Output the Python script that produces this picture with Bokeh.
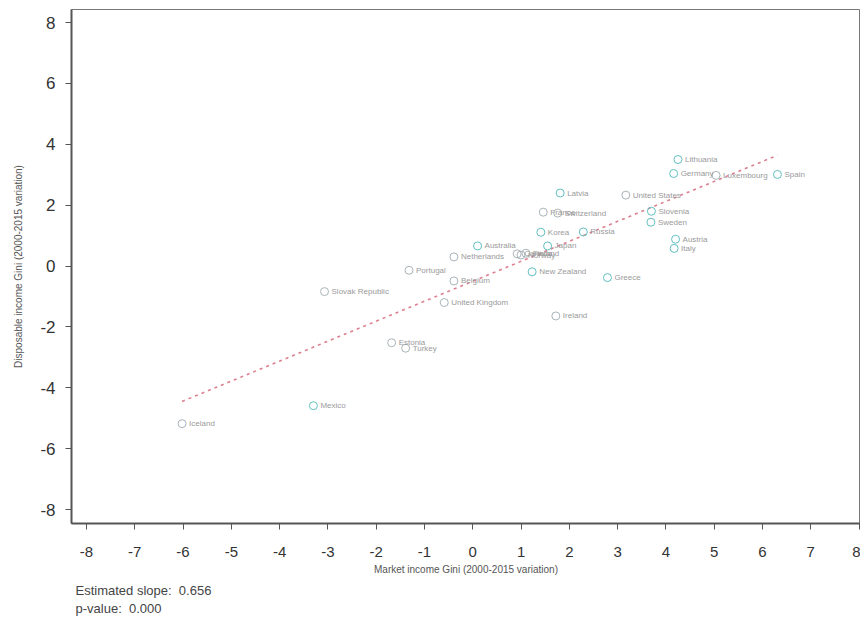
from bokeh.plotting import figure
from bokeh.models import ColumnDataSource, Range1d, FixedTicker, Title
from bokeh.embed import file_html
from bokeh.resources import INLINE
from bokeh.core.properties import value

countries = ["Lithuania", "Germany", "Luxembourg", "Spain", "Latvia", "United States",
             "France", "Switzerland", "Slovenia", "Sweden", "Korea", "Russia",
             "Austria", "Italy", "Australia", "Japan", "Netherlands", "Canada",
             "Norway", "Finland", "Portugal", "New Zealand", "Greece", "Belgium",
             "Slovak Republic", "United Kingdom", "Ireland", "Estonia", "Turkey",
             "Mexico", "Iceland"]
market_gini = [4.25, 4.16, 5.04, 6.31, 1.81, 3.17,
               1.46, 1.76, 3.70, 3.69, 1.41, 2.29,
               4.20, 4.17, 0.10, 1.55, -0.39, 0.92,
               1.00, 1.10, -1.32, 1.23, 2.79, -0.39,
               -3.07, -0.59, 1.72, -1.68, -1.39,
               -3.30, -6.02]
disp_gini = [3.50, 3.04, 2.98, 3.01, 2.40, 2.33,
             1.77, 1.74, 1.80, 1.44, 1.11, 1.12,
             0.88, 0.58, 0.66, 0.66, 0.30, 0.40,
             0.36, 0.42, -0.14, -0.19, -0.38, -0.49,
             -0.84, -1.20, -1.64, -2.52, -2.70,
             -4.59, -5.18]
group = ["b", "b", "a", "b", "b", "a",
         "a", "a", "b", "b", "b", "b",
         "b", "b", "b", "b", "a", "a",
         "a", "a", "a", "b", "b", "a",
         "a", "a", "a", "a", "a",
         "b", "a"]
slope = 0.656
intercept = -0.50
ticks = [-8, -7, -6, -5, -4, -3, -2, -1, 0, 1, 2, 3, 4, 5, 6, 7, 8]
yticks = [-8, -6, -4, -2, 0, 2, 4, 6, 8]
note_lines = ["Estimated slope:\u00a0 0.656", "p-value:\u00a0 0.000"]

palette = {"a": "#a9b4b8", "b": "#62bfc0"}
colors = [palette[g] for g in group]

src = ColumnDataSource(dict(x=market_gini, y=disp_gini, name=countries, color=colors))

p = figure(width=860, height=619, output_backend="svg", toolbar_location=None,
           x_range=Range1d(-8.31, 8.03), y_range=Range1d(-8.46, 8.43),
           min_border_left=71, min_border_right=0, min_border_top=9, min_border_bottom=40)
p.background_fill_color = "white"
p.border_fill_color = "white"
p.outline_line_color = "#777777"
p.outline_line_width = 1
p.xgrid.visible = False
p.ygrid.visible = False

# regression line across data range
xmin, xmax = min(market_gini), max(market_gini)
p.line([xmin, xmax], [intercept + slope * xmin, intercept + slope * xmax],
       line_color="#dc7f8f", line_width=1.6, line_dash="3 4")

p.scatter("x", "y", source=src, marker="circle", size=8, fill_color=None,
          line_color="color", line_width=1)
p.text("x", "y", text="name", source=src, x_offset=7, text_baseline="middle",
       text_font_size="8px", text_color="#9a9a9a", text_font=value("Liberation Sans"))

for ax in (p.xaxis[0], p.yaxis[0]):
    ax.axis_line_color = "#555555"
    ax.axis_line_width = 2
    ax.major_tick_line_color = "#555555"
    ax.major_tick_out = 6
    ax.major_tick_in = 0
    ax.minor_tick_line_color = None
    ax.major_label_text_color = "#333333"
    ax.major_label_text_font = "Liberation Sans"
    ax.axis_label_text_font = "Liberation Sans"
    ax.axis_label_text_font_style = "normal"
    ax.axis_label_text_color = "#555555"
    ax.axis_label_text_font_size = "10px"

p.xaxis.ticker = FixedTicker(ticks=ticks)
p.yaxis.ticker = FixedTicker(ticks=yticks)
p.xaxis.major_label_overrides = {t: str(t) for t in ticks}
p.yaxis.major_label_overrides = {t: str(t) for t in yticks}
p.xaxis.major_label_text_font_size = "15px"
p.yaxis.major_label_text_font_size = "17px"
p.xaxis.major_label_standoff = 17
p.yaxis.major_label_standoff = 10
p.xaxis.axis_label = "Market income Gini (2000-2015 variation)"
p.yaxis.axis_label = "Disposable income Gini (2000-2015 variation)"
p.xaxis.axis_label_standoff = 4
p.yaxis.axis_label_standoff = 13

t1 = Title(text="\n".join(note_lines), align="left", offset=4,
           text_font_size="13px", text_color="#444444", text_font_style="normal",
           text_font="Liberation Sans", standoff=8, text_line_height=1.15)
p.add_layout(t1, "below")

open("out.html", "w").write(file_html(p, INLINE))
